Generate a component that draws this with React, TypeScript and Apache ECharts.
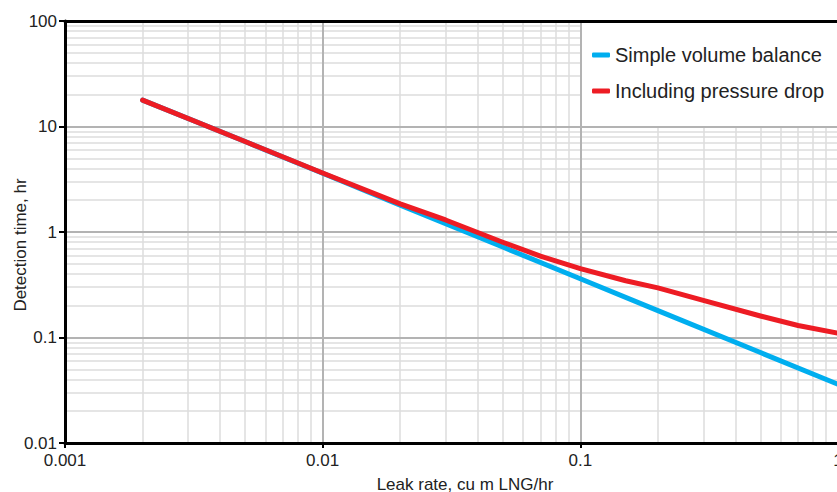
import React, { useEffect, useRef } from "react";
import * as echarts from "echarts";

const leakRateBlue = [0.002, 0.005, 0.01, 0.02, 0.05, 0.1, 0.2, 0.5, 1];
const detectBlue = [17.8, 7.2, 3.6, 1.8, 0.72, 0.36, 0.18, 0.072, 0.036];

const leakRateRed = [0.002, 0.005, 0.01, 0.02, 0.03, 0.05, 0.07, 0.1, 0.15, 0.2, 0.3, 0.5, 0.7, 1];
const detectRed = [17.8, 7.2, 3.62, 1.85, 1.3, 0.8, 0.59, 0.45, 0.345, 0.295, 0.225, 0.16, 0.13, 0.11];

const seriesNames = ["Simple volume balance", "Including pressure drop"];
const seriesColors = ["#00aeef", "#ed1c24"];

const xMajor = [0.001, 0.01, 0.1, 1];
const yMajor = [0.01, 0.1, 1, 10, 100];
const minorSteps = [2, 3, 4, 5, 6, 7, 8, 9];

const xTitle = "Leak rate, cu m LNG/hr";
const yTitle = "Detection time, hr";

const FONT = "'Liberation Sans', Arial, sans-serif";

export default function App() {
  const ref = useRef<HTMLDivElement>(null);
  useEffect(() => {
    if (!ref.current) return;
    const chart = echarts.init(ref.current, undefined, { renderer: "svg" });

    const minorStyle = { color: "#dcdcdc", width: 1.5, type: "solid" };
    const majorStyle = { color: "#b3b3b3", width: 2, type: "solid" };
    const lines: any[] = [];
    for (let d = 0; d < xMajor.length - 1; d++) {
      for (const s of minorSteps) {
        const x = xMajor[d] * s;
        const yTop = xMajor[d] >= 0.1 ? 10 : 100;
        lines.push([
          { coord: [x, 0.01], lineStyle: minorStyle },
          { coord: [x, yTop] },
        ]);
      }
    }
    for (let d = 0; d < yMajor.length - 1; d++) {
      for (const s of minorSteps) {
        const y = yMajor[d] * s;
        const xRight = yMajor[d] >= 10 ? 0.1 : 1;
        lines.push([
          { coord: [0.001, y], lineStyle: minorStyle },
          { coord: [xRight, y] },
        ]);
      }
    }
    for (const x of xMajor.slice(1, -1)) {
      lines.push([
        { coord: [x, 0.01], lineStyle: majorStyle },
        { coord: [x, 100] },
      ]);
    }
    for (const y of yMajor.slice(1, -1)) {
      lines.push([
        { coord: [0.001, y], lineStyle: majorStyle },
        { coord: [1, y] },
      ]);
    }

    const fmt = (v: number) => String(Number(Number(v).toPrecision(6)));

    chart.setOption({
      animation: false,
      backgroundColor: "#ffffff",
      grid: {
        left: 65,
        top: 21,
        width: 773,
        height: 422,
        containLabel: false,
        outerBoundsMode: "none",
      },
      legend: {
        data: seriesNames.map((n, i) => ({ name: n, icon: "roundRect", itemStyle: { color: seriesColors[i] } })),
        orient: "vertical",
        left: 592,
        top: 45,
        padding: 0,
        itemWidth: 18,
        itemHeight: 5,
        itemGap: 16,
        z: 10,
        textStyle: { fontFamily: FONT, fontSize: 20, color: "#222", lineHeight: 20 },
      },
      xAxis: [
        {
          type: "log",
          logBase: 10,
          min: 0.001,
          max: 1,
          z: 2,
          axisLine: { show: true, onZero: false, lineStyle: { color: "#000", width: 3 } },
          axisTick: { show: true, length: 5, lineStyle: { color: "#000", width: 2 } },
          axisLabel: { margin: 9, fontFamily: FONT, fontSize: 17, color: "#222", formatter: fmt },
          splitLine: { show: false },
          minorTick: { show: false },
        },
        {
          type: "log",
          logBase: 10,
          min: 0.001,
          max: 1,
          position: "top",
          z: 2,
          axisLine: { show: true, onZero: false, lineStyle: { color: "#000", width: 3 } },
          axisTick: { show: false },
          axisLabel: { show: false },
          splitLine: { show: false },
        },
      ],
      yAxis: {
        type: "log",
        logBase: 10,
        min: 0.01,
        max: 100,
        z: 2,
        axisLine: { show: true, onZero: false, lineStyle: { color: "#000", width: 3 } },
        axisTick: { show: true, length: 6, lineStyle: { color: "#000", width: 2 } },
        axisLabel: { margin: 8, fontFamily: FONT, fontSize: 17, color: "#222", formatter: fmt },
        splitLine: { show: false },
      },
      graphic: [
        {
          type: "text",
          x: 465,
          y: 484,
          style: {
            text: xTitle,
            fontFamily: FONT,
            fontSize: 17,
            fill: "#222",
            textAlign: "center",
            textVerticalAlign: "middle",
          },
        },
        {
          type: "text",
          x: 20,
          y: 245,
          rotation: Math.PI / 2,
          style: {
            text: yTitle,
            fontFamily: FONT,
            fontSize: 17,
            fill: "#222",
            textAlign: "center",
            textVerticalAlign: "middle",
          },
        },
      ],
      series: [
        {
          name: "grid-lines",
          type: "line",
          z: 1,
          data: [[0.01, 1]],
          showSymbol: false,
          symbol: "none",
          lineStyle: { width: 0, opacity: 0 },
          silent: true,
          markLine: {
            z: 1,
            silent: true,
            symbol: ["none", "none"],
            label: { show: false },
            animation: false,
            data: lines,
          },
        },
        {
          name: seriesNames[0],
          type: "line",
          z: 6,
          data: leakRateBlue.map((x, i) => [x, detectBlue[i]]),
          showSymbol: false,
          symbol: "none",
          lineStyle: { color: seriesColors[0], width: 5, cap: "round", join: "round" },
          itemStyle: { color: seriesColors[0] },
        },
        {
          name: seriesNames[1],
          type: "line",
          z: 7,
          data: leakRateRed.map((x, i) => [x, detectRed[i]]),
          showSymbol: false,
          symbol: "none",
          lineStyle: { color: seriesColors[1], width: 5, cap: "round", join: "round" },
          itemStyle: { color: seriesColors[1] },
        },
      ],
    });
    return () => chart.dispose();
  }, []);
  return (
    <div
      ref={ref}
      style={{ position: "fixed", left: 0, top: 0, width: 837, height: 492 }}
    />
  );
}
